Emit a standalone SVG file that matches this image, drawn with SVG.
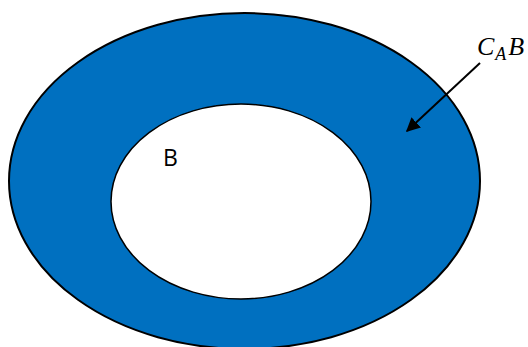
<svg xmlns="http://www.w3.org/2000/svg" width="528" height="347" viewBox="0 0 528 347">
<defs>
<style>
.lbl{font-family:"Open Sans","Liberation Sans",sans-serif;font-size:23px;fill:#000}
.math{font-family:"Liberation Serif","DejaVu Serif",serif;font-style:italic;fill:#000}
</style>
<marker id="ah" viewBox="0 0 10 10" refX="9" refY="5" markerWidth="7" markerHeight="7" markerUnits="strokeWidth" orient="auto">
<path d="M0,0 L10,5 L0,10 z" fill="#000"/>
</marker>
</defs>
<rect width="528" height="347" fill="#fff"/>
<g id="universe">
<ellipse cx="244.5" cy="181" rx="235.5" ry="168" fill="#0070C0" stroke="#000" stroke-width="2"/>
</g>
<g id="setB">
<ellipse cx="241" cy="201.5" rx="130" ry="97.5" fill="#fff" stroke="#000" stroke-width="1.5"/>
<text class="lbl" x="163" y="166">B</text>
</g>
<g id="complement-label">
<text class="math" x="477" y="55" font-size="26">C<tspan font-size="18" dx="1" dy="5">A</tspan><tspan dx="2" dy="-5">B</tspan></text>
</g>
<g id="connectors">
<line x1="480" y1="63" x2="407" y2="131" stroke="#000" stroke-width="2" marker-end="url(#ah)"/>
</g>
</svg>
